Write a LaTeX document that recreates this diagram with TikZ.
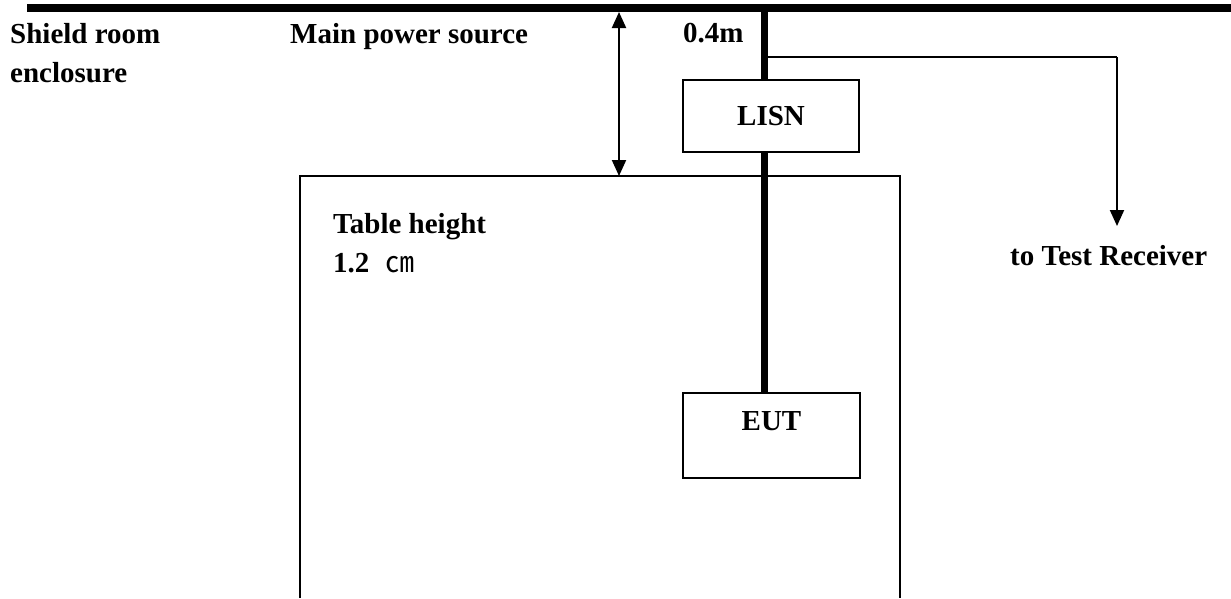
\documentclass[tikz,border=0pt]{standalone}
\usepackage{fontspec}
\setmainfont{Liberation Serif}
\newfontfamily\cjk{Noto Sans CJK SC}
\usetikzlibrary{arrows.meta}
\begin{document}
\begin{tikzpicture}[x=1pt,y=-1pt,
  txt/.style={font=\fontsize{29}{39}\selectfont\bfseries, inner sep=0pt, anchor=base west},
  thin/.style={line width=2pt},
  bus/.style={line width=7pt},
  tip/.style={-{Triangle[width=14pt,length=16pt]}},
  boxnode/.style={draw, line width=2pt, inner sep=0pt, font=\fontsize{29}{39}\selectfont\bfseries}]
\useasboundingbox (0,0) rectangle (1231,598);
% top power bus
\coordinate (busL) at (27,8);
\coordinate (busR) at (1231,8);
\draw[line width=8pt] (busL) -- (busR);
% table
\draw[thin] (300,598) -- (300,176) -- (900,176) -- (900,598);
% LISN and EUT
\node[boxnode, minimum width=176pt, minimum height=72pt] (lisn) at (771,116) {LISN};
\node[boxnode, minimum width=177pt, minimum height=85pt,
      label={[anchor=north, yshift=-19pt, inner sep=0pt, font=\fontsize{29}{39}\selectfont\bfseries]north:EUT}] (eut) at (771.5,435.5) {};
\coordinate (top) at (764,8);
\coordinate (branch) at (764,57);
\coordinate (bend) at (1117,57);
\coordinate (rx) at (1117,226);
\draw[bus] (top) -- (top |- lisn.north);
\draw[bus] (top |- lisn.south) -- (top |- eut.north);
% branch to receiver
\draw[thin] (branch) -- (bend);
\draw[thin, tip] (bend) -- (rx);
% height dimension
\coordinate (dimT) at (619,12);
\coordinate (dimB) at (619,176);
\draw[thin, {Triangle[width=14pt,length=16pt]}-{Triangle[width=14pt,length=16pt]}] (dimT) -- (dimB);
% labels
\node[txt] (shield) at (10,43) {Shield room};
\node[txt] (encl) at (10,82) {enclosure};
\node[txt] (mains) at (290,43) {Main power source};
\node[txt] (dist) at (683,42) {0.4m};
\node[txt] (th) at (333,233) {Table height};
\node[txt] (th2) at (333,272) {1.2\hspace{16pt}{\cjk\mdseries ㎝}};
\node[txt] (recv) at (1010,265) {to Test Receiver};
\end{tikzpicture}
\end{document}
